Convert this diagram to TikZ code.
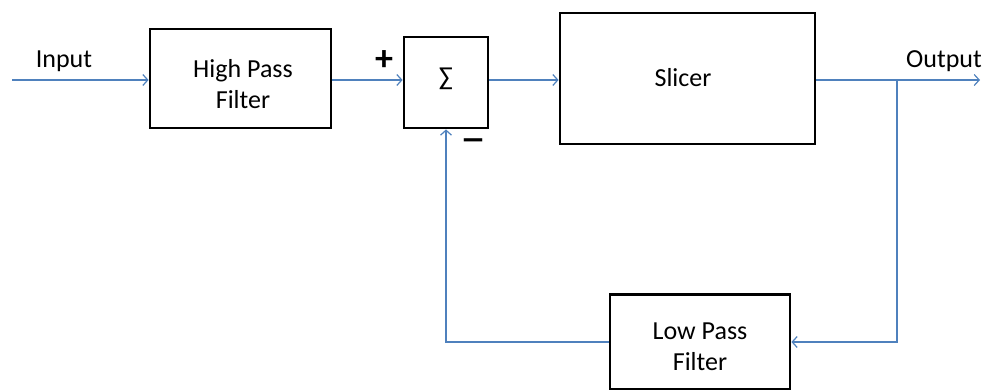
\documentclass[tikz,border=0pt]{standalone}
\usepackage{fontspec}
\setmainfont{Carlito}
\usetikzlibrary{arrows.meta}
\definecolor{lineblue}{HTML}{4F81BD}
\begin{document}
\begin{tikzpicture}[x=1pt,y=-1pt,
  blockbox/.style={draw=black,line width=2.8pt,fill=white,rectangle,inner sep=0pt},
  wire/.style={draw=lineblue,line width=1.4pt},
  arr/.style={wire,-{Straight Barb[length=5pt,width=11pt,line width=1.2pt]}},
  lbl/.style={font=\fontsize{26}{31}\selectfont,inner sep=0pt,align=center},
  sign/.style={font=\fontsize{36}{36}\selectfont\bfseries,inner sep=0pt}]
\useasboundingbox (0,0) rectangle (986,390);
\node[blockbox,minimum width=181pt,minimum height=99pt] (hpf) at (240.5,78.5) {};
\node[blockbox,minimum width=84pt,minimum height=91pt] (sum) at (446,82.5) {};
\node[blockbox,minimum width=255pt,minimum height=131pt] (slicer) at (687.5,78.5) {};
\node[blockbox,minimum width=180pt,minimum height=95pt] (lpf) at (700,342) {};
\node[lbl] (hpftext) at (243,84) {High Pass\\Filter};
\node[lbl] (sumtext) at (446,79) {∑};
\node[lbl] (slicertext) at (683,78) {Slicer};
\node[lbl] (lpftext) at (700,346.5) {Low Pass\\Filter};
\coordinate (in) at (12,80);
\coordinate (out) at (980,80);
\coordinate (j) at (897,80);
\node[lbl] (inlbl) at (64,61) {Input};
\node[lbl] (outlbl) at (944,61) {Output};
\node[sign] (plus) at (384,61) {+};
\node[sign,xscale=1.45,transform shape] (minus) at (473,145) {–};
\draw[arr] (in) -- (in -| hpf.west);
\draw[arr] (in -| hpf.east) -- (in -| sum.west);
\draw[arr] (in -| sum.east) -- (in -| slicer.west);
\draw[arr] (in -| slicer.east) -- (out);
\draw[arr] (j) |- (lpf.east);
\draw[arr] (lpf.west) -| (sum.south);
\end{tikzpicture}
\end{document}
